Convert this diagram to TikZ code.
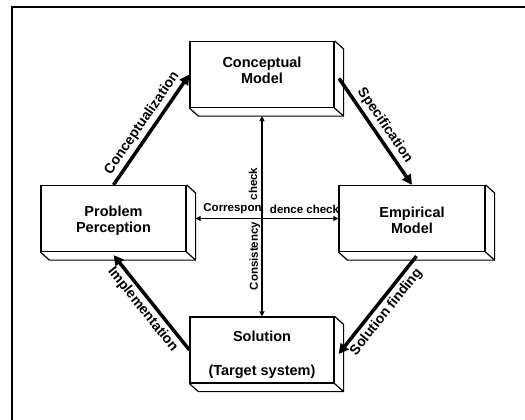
\documentclass[tikz,border=0pt]{standalone}
\usepackage{fontspec}
\setmainfont{Liberation Sans}
\usetikzlibrary{arrows.meta}
\newcommand\boxdepth[1]{%
  \draw[line width=1.2pt, line join=round]
    (#1.north east) -- ([shift={(9,8)}]#1.north east)
    -- ([shift={(9,8)}]#1.south east) -- ([shift={(9,8)}]#1.south west)
    -- (#1.south west);
  \draw[line width=1.2pt] (#1.south east) -- ([shift={(9,8)}]#1.south east);
}
\begin{document}
\begin{tikzpicture}[x=1pt,y=-1pt,
  box/.style={draw, line width=1.2pt, minimum width=144pt, minimum height=66pt,
    inner sep=0pt},
  boxtext/.style={align=center, inner sep=0pt, font=\bfseries\fontsize{14.5}{16}\selectfont},
  flow/.style={line width=3.5pt, -{Triangle[length=10pt,width=10pt]}},
  link/.style={line width=1.4pt, {Triangle[length=5pt,width=5pt]}-{Triangle[length=5pt,width=5pt]}},
  lab/.style={font=\bfseries\fontsize{14}{16}\selectfont, inner sep=3pt},
  small/.style={font=\bfseries\fontsize{11.5}{13}\selectfont, inner sep=0pt}]
\useasboundingbox (0,0) rectangle (525,420);
\draw[line width=2pt] (525,7) -- (12,7) -- (12,420);
\node[box, label={[boxtext, yshift=4pt]center:Conceptual\\Model}] (cm) at (262,74.5) {};
\node[box, minimum width=145pt, label={[boxtext, yshift=-2pt]center:Problem\\Perception}] (pp) at (113.5,218.5) {};
\node[box, minimum width=146pt, label={[boxtext, yshift=-2pt]center:Empirical\\Model}] (em) at (412,218.5) {};
\node[box, label={[boxtext, yshift=-5pt]center:Solution\\[18pt](Target system)}] (sol) at (262,350) {};
\boxdepth{cm}
\boxdepth{pp}
\boxdepth{em}
\boxdepth{sol}
\draw[flow] (pp.north) -- node[lab, sloped, above] {Conceptualization} (cm.west);
\draw[flow] ([shift={(4.5,4)}]cm.east) -- node[lab, sloped, above] {Specification} (em.north);
\draw[flow] ([shift={(4.5,4)}]em.south) -- node[lab, sloped, below] {Solution finding} ([shift={(4,4)}]sol.east);
\draw[flow] (sol.west) -- node[lab, sloped, below] {Implementation} ([shift={(0,3)}]pp.south);
\draw[link] ([yshift=-8pt]cm.south) -- (sol.north);
\draw[link] ([xshift=9pt]pp.east) -- (em.west);
\node[small, rotate=90] (chk) at (253,184) {check};
\node[small, rotate=90] (cons) at (255,256) {Consistency};
\node[small] (cor1) at (232.5,209) {Correspon};
\node[small] (cor2) at (304.5,209) {dence check};
\end{tikzpicture}
\end{document}
